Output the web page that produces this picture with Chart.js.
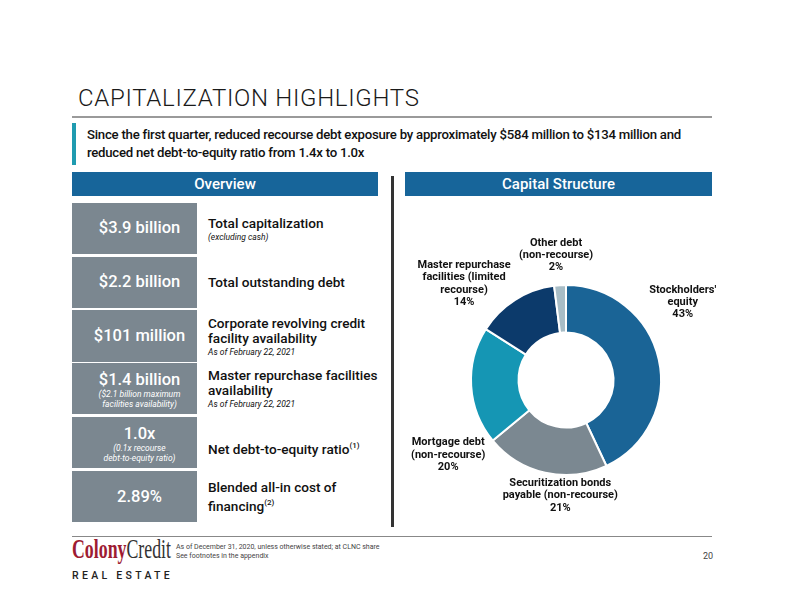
<!DOCTYPE html>
<html>
<head>
<meta charset="utf-8">
<script src="https://cdn.jsdelivr.net/npm/chart.js@4.4.1/dist/chart.umd.min.js"></script>
<style>
  html, body { margin: 0; padding: 0; background: #fff; }
  body { width: 792px; height: 612px; position: relative; overflow: hidden; font-family: Roboto, "Liberation Sans", sans-serif; color: #111; }
  .abs { position: absolute; }
  .title { left: 78px; top: 84px; font-size: 24px; font-weight: 300; letter-spacing: 0.7px; color: #1a1a1a; }
  .rule { height: 2px; background: #9a9a9a; }
  .sub { left: 87px; top: 126px; font-size: 13.2px; font-weight: 500; line-height: 18px; letter-spacing: -0.25px; }
  .bar { top: 172px; height: 24px; background: #17659a; color: #fff; font-size: 15px; font-weight: 500; text-align: center; line-height: 24px; }
  .box { left: 72px; width: 125px; background: #7b8790; color: #fff; text-align: center; }
  .big { font-size: 16.5px; font-weight: 500; }
  .small { font-size: 8.5px; font-style: italic; line-height: 10px; }
  .lbl { left: 208px; font-size: 13.6px; font-weight: 500; line-height: 15px; }
  .note { font-size: 8.5px; font-style: italic; font-weight: 400; }
  sup { font-size: 8px; }
</style>
</head>
<body>
<div class="abs title">CAPITALIZATION HIGHLIGHTS</div>
<div class="abs rule" style="left:72px;top:116px;width:640px"></div>
<div class="abs" style="left:72px;top:123px;width:4px;height:42px;background:#1f9bb0"></div>
<div class="abs sub">Since the first quarter, reduced recourse debt exposure by approximately $584 million to $134 million and<br>reduced net debt-to-equity ratio from 1.4x to 1.0x</div>

<div class="abs bar" style="left:72px;width:306px">Overview</div>
<div class="abs bar" style="left:405px;width:307px">Capital Structure</div>
<div class="abs" style="left:391px;top:176px;width:3px;height:351px;background:#333"></div>

<div class="abs box" style="top:203px;height:51px"><div class="big" style="padding-top:15px;padding-left:10px">$3.9 billion</div></div>
<div class="abs box" style="top:257px;height:51px"><div class="big" style="padding-top:15px;padding-left:10px">$2.2 billion</div></div>
<div class="abs box" style="top:310px;height:52px"><div class="big" style="padding-top:16px;padding-left:10px">$101 million</div></div>
<div class="abs box" style="top:363px;height:51px"><div class="big" style="padding-top:7px;padding-left:10px">$1.4 billion</div><div class="small" style="padding-left:10px">($2.1 billion maximum<br>facilities availability)</div></div>
<div class="abs box" style="top:417px;height:51px"><div class="big" style="padding-top:7px;padding-left:10px">1.0x</div><div class="small" style="padding-left:10px">(0.1x recourse<br>debt-to-equity ratio)</div></div>
<div class="abs box" style="top:471px;height:51px"><div class="big" style="padding-top:16px;padding-left:10px">2.89%</div></div>

<div class="abs lbl" style="top:216px">Total capitalization<div class="note" style="line-height:12px">(excluding cash)</div></div>
<div class="abs lbl" style="top:275px">Total outstanding debt</div>
<div class="abs lbl" style="top:316px">Corporate revolving credit<br>facility availability<div class="note" style="line-height:12px">As of February 22, 2021</div></div>
<div class="abs lbl" style="top:368px">Master repurchase facilities<br>availability<div class="note" style="line-height:13px">As of February 22, 2021</div></div>
<div class="abs lbl" style="top:438px">Net debt-to-equity ratio<sup>(1)</sup></div>
<div class="abs lbl" style="top:480px">Blended all-in cost of<br>financing<sup>(2)</sup></div>

<div class="abs" style="left:395px;top:200px;width:345px;height:330px"><canvas id="cap"></canvas></div>

<div class="abs rule" style="left:72px;top:536px;width:640px;height:1px;background:#888"></div>
<div class="abs" style="left:72px;top:534px;font-family:'Liberation Serif','DejaVu Serif',serif;font-size:27px;line-height:30px;white-space:nowrap;transform:scaleX(0.66);transform-origin:0 0"><span style="color:#9e1b32;font-weight:bold">Colony</span><span style="color:#333">Credit</span></div>
<div class="abs" style="left:72px;top:569px;font-size:10.5px;font-weight:500;letter-spacing:3.3px;color:#222">REAL ESTATE</div>
<div class="abs" style="left:176px;top:543px;font-size:7px;line-height:9px;color:#444">As of December 31, 2020, unless otherwise stated; at CLNC share<br>See footnotes in the appendix</div>
<div class="abs" style="left:703px;top:551px;font-size:9px;color:#444">20</div>

<script>
// capital structure, % of total capitalization
const segments = [
  ["Stockholders'", "equity"],
  ["Securitization bonds", "payable (non-recourse)"],
  ["Mortgage debt", "(non-recourse)"],
  ["Master repurchase", "facilities (limited", "recourse)"],
  ["Other debt", "(non-recourse)"]
];
const shares = [43, 21, 20, 14, 2];
const sliceColors = ['#1a6496', '#7b8891', '#1596b4', '#0c3a6b', '#a8bdc6'];

// outside labels like the slide, nudged from each slice's mid angle
const outsideLabels = {
  id: 'outsideLabels',
  afterDraw(chart, args, opts) {
    const ctx = chart.ctx;
    const arcs = chart.getDatasetMeta(0).data;
    ctx.save();
    ctx.font = opts.font;
    ctx.fillStyle = opts.color;
    ctx.textAlign = 'center';
    ctx.textBaseline = 'middle';
    arcs.forEach((arc, i) => {
      const p = arc.getProps(['x', 'y', 'startAngle', 'endAngle', 'outerRadius'], true);
      const mid = (p.startAngle + p.endAngle) / 2;
      const nudge = opts.nudge[i] || [0, 0];
      const cx = p.x + Math.cos(mid) * p.outerRadius + nudge[0];
      const cy = p.y + Math.sin(mid) * p.outerRadius + nudge[1];
      const lines = segments[i].concat([shares[i] + '%']);
      const top = cy - (lines.length - 1) * opts.lineHeight / 2;
      lines.forEach((t, j) => ctx.fillText(t, cx, top + j * opts.lineHeight));
    });
    ctx.restore();
  }
};

new Chart(document.getElementById('cap'), {
  type: 'doughnut',
  data: {
    labels: segments.map(s => s.join(' ')),
    datasets: [{
      data: shares,
      backgroundColor: sliceColors,
      borderColor: '#ffffff',
      borderWidth: 2,
      hoverOffset: 0
    }]
  },
  options: {
    responsive: true,
    maintainAspectRatio: false,
    animation: false,
    cutout: '50%',
    layout: { padding: { left: 75, right: 78, top: 84, bottom: 54 } },
    plugins: {
      legend: { display: false },
      tooltip: { enabled: false },
      outsideLabels: {
        font: 'bold 11px Roboto',
        color: '#111',
        lineHeight: 12.3,
        nudge: [[24, -57], [15, 23], [-23, 69], [-51, -16], [-4, -30]]
      }
    }
  },
  plugins: [outsideLabels]
});
</script>
</body>
</html>
